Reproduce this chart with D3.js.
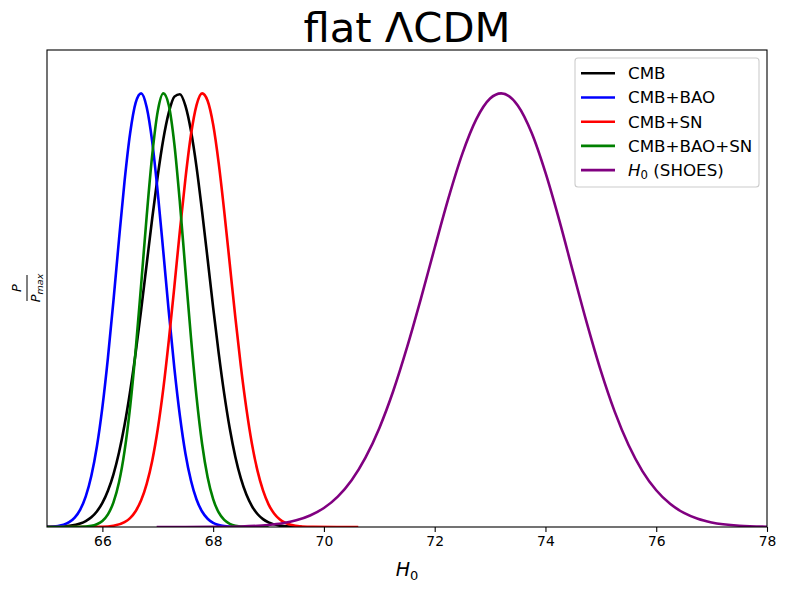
<!DOCTYPE html>
<html>
<head>
<meta charset="utf-8">
<script src="https://cdn.jsdelivr.net/npm/d3@7"></script>
<style>
  body { margin: 0; background: #fff; }
  text { font-family: "DejaVu Sans", sans-serif; }
</style>
</head>
<body>
<div id="chart"></div>
<script>
// values (H0 grid and P/Pmax)
const cmbH = [65.0, 65.2, 65.4, 65.6, 65.7, 65.8, 65.9, 66.0, 66.1, 66.2, 66.3, 66.4, 66.5, 66.6, 66.7, 66.8, 66.9, 67.0, 67.1, 67.2, 67.3, 67.4, 67.5, 67.6, 67.7, 67.8, 67.9, 68.0, 68.1, 68.2, 68.3, 68.4, 68.5, 68.6, 68.7, 68.8, 68.9, 69.0, 69.2, 69.4, 69.6];
const cmbP = [0.0002, 0.0007, 0.0026, 0.0081, 0.0137, 0.0225, 0.0359, 0.0556, 0.0836, 0.1216, 0.1717, 0.235, 0.312, 0.401, 0.501, 0.6065, 0.712, 0.810, 0.894, 0.956, 0.9925, 0.998, 0.971, 0.913, 0.830, 0.728, 0.618, 0.506, 0.401, 0.307, 0.227, 0.162, 0.112, 0.0747, 0.0482, 0.030, 0.0181, 0.0105, 0.0032, 0.0009, 0.0002];

const baoH = [65.0, 65.2, 65.3, 65.4, 65.5, 65.6, 65.7, 65.8, 65.9, 66.0, 66.1, 66.2, 66.3, 66.4, 66.5, 66.6, 66.7, 66.8, 66.9, 67.0, 67.1, 67.2, 67.3, 67.4, 67.5, 67.6, 67.7, 67.8, 67.9, 68.0, 68.2, 68.4];
const baoP = [0.0004, 0.0025, 0.0054, 0.0111, 0.0217, 0.0402, 0.0706, 0.1174, 0.185, 0.276, 0.390, 0.522, 0.663, 0.797, 0.907, 0.978, 1.0, 0.968, 0.888, 0.771, 0.635, 0.495, 0.366, 0.256, 0.169, 0.1066, 0.0634, 0.0357, 0.0191, 0.0096, 0.0021, 0.0004];

const snH = [65.0, 66.0, 66.2, 66.4, 66.5, 66.6, 66.7, 66.8, 66.9, 67.0, 67.1, 67.2, 67.3, 67.4, 67.5, 67.6, 67.7, 67.8, 67.9, 68.0, 68.1, 68.2, 68.3, 68.4, 68.5, 68.6, 68.7, 68.8, 68.9, 69.0, 69.1, 69.2, 69.3, 69.4, 69.6, 69.8, 70.62];
const snP = [0, 0.0006, 0.0028, 0.0111, 0.0206, 0.0364, 0.0615, 0.0994, 0.153, 0.226, 0.319, 0.431, 0.555, 0.684, 0.804, 0.905, 0.973, 1.0, 0.983, 0.928, 0.839, 0.728, 0.6065, 0.484, 0.371, 0.273, 0.192, 0.130, 0.0843, 0.0523, 0.0312, 0.0179, 0.0098, 0.0052, 0.0013, 0.0003, 0];

const baoSnH = [65.0, 65.6, 65.8, 65.9, 66.0, 66.1, 66.2, 66.3, 66.4, 66.5, 66.6, 66.7, 66.8, 66.9, 67.0, 67.1, 67.2, 67.3, 67.4, 67.5, 67.6, 67.7, 67.8, 67.9, 68.0, 68.1, 68.2, 68.3, 68.4, 68.6, 69.0];
const baoSnP = [0, 0.0004, 0.0026, 0.0063, 0.0140, 0.0292, 0.0568, 0.103, 0.175, 0.276, 0.406, 0.559, 0.717, 0.858, 0.959, 1.0, 0.972, 0.8825, 0.747, 0.590, 0.436, 0.300, 0.192, 0.115, 0.0644, 0.0336, 0.0163, 0.0074, 0.0031, 0.0005, 0];

const shoesH = [66.98, 67.5, 68.0, 68.5, 69.0, 69.25, 69.5, 69.75, 70.0, 70.25, 70.5, 70.75, 71.0, 71.25, 71.5, 71.75, 72.0, 72.25, 72.5, 72.75, 73.0, 73.2, 73.5, 73.75, 74.0, 74.25, 74.5, 74.75, 75.0, 75.25, 75.5, 75.75, 76.0, 76.25, 76.5, 76.75, 77.0, 77.5, 78.0];
const shoesP = [0, 0.00005, 0.0003, 0.0012, 0.0046, 0.0086, 0.0153, 0.0265, 0.0439, 0.0702, 0.108, 0.160, 0.228, 0.313, 0.414, 0.526, 0.644, 0.759, 0.861, 0.940, 0.988, 1.0, 0.972, 0.909, 0.817, 0.707, 0.587, 0.469, 0.360, 0.266, 0.189, 0.129, 0.0847, 0.0534, 0.0324, 0.0189, 0.0106, 0.0030, 0.0007];

const labels = ["CMB", "CMB+BAO", "CMB+SN", "CMB+BAO+SN", "H0 (SHOES)"];
const colors = ["black", "blue", "red", "green", "purple"];
const xTicks = [66, 68, 70, 72, 74, 76, 78];

const series = [
  d3.zip(cmbH, cmbP),
  d3.zip(baoH, baoP),
  d3.zip(snH, snP),
  d3.zip(baoSnH, baoSnP),
  d3.zip(shoesH, shoesP)
];

const width = 787, height = 591;
const plotLeft = 47, plotRight = 767, plotTop = 50, plotBottom = 527;

const svg = d3.select('#chart').append('svg')
    .attr('width', width)
    .attr('height', height);

svg.append('rect').attr('width', width).attr('height', height).attr('fill', '#fff');

const x = d3.scaleLinear().domain([65, 78]).range([plotLeft, plotRight]);
const y = d3.scaleLinear().domain([0, 1.1]).range([plotBottom, plotTop]);

svg.append('clipPath').attr('id', 'clip')
  .append('rect')
    .attr('x', plotLeft).attr('y', plotTop - 5)
    .attr('width', plotRight - plotLeft).attr('height', plotBottom - plotTop + 5);

const line = d3.line()
    .x(d => x(d[0]))
    .y(d => y(d[1]))
    .curve(d3.curveMonotoneX);

svg.append('g').attr('clip-path', 'url(#clip)')
  .selectAll('path').data(series).enter()
  .append('path')
    .attr('d', line)
    .attr('fill', 'none')
    .attr('stroke', (d, i) => colors[i])
    .attr('stroke-width', 2.6)
    .attr('stroke-linejoin', 'round');

// x axis
const xAxis = svg.append('g')
    .attr('transform', `translate(0,${plotBottom})`)
    .call(d3.axisBottom(x).tickValues(xTicks).tickFormat(d3.format('d')).tickSize(4.9).tickPadding(4.5));
xAxis.select('.domain').remove();
xAxis.selectAll('line').attr('stroke', '#000').attr('stroke-width', 1.1);
xAxis.selectAll('text')
    .attr('fill', '#000')
    .style('font-family', '"DejaVu Sans", sans-serif')
    .style('font-size', '13.9px');

// frame
svg.append('rect')
    .attr('x', plotLeft).attr('y', plotTop)
    .attr('width', plotRight - plotLeft).attr('height', plotBottom - plotTop)
    .attr('fill', 'none')
    .attr('stroke', '#000')
    .attr('stroke-width', 1.1);

// title
svg.append('text')
    .attr('x', (plotLeft + plotRight) / 2)
    .attr('y', 42)
    .attr('text-anchor', 'middle')
    .style('font-size', '41.7px')
    .text('flat ΛCDM');

// x label
const xl = svg.append('text')
    .attr('x', (plotLeft + plotRight) / 2)
    .attr('y', 576)
    .attr('text-anchor', 'middle')
    .style('font-size', '19px');
xl.append('tspan').style('font-style', 'italic').text('H');
xl.append('tspan').attr('dy', 4).style('font-size', '13px').text('0');

// y label (fraction P / Pmax)
const yl = svg.append('g').attr('transform', 'translate(27,288) rotate(-90)');
yl.append('text')
    .attr('x', 0).attr('y', -6)
    .attr('text-anchor', 'middle')
    .style('font-size', '13px')
    .style('font-style', 'italic')
    .text('P');
yl.append('line')
    .attr('x1', -13).attr('x2', 13)
    .attr('y1', 0).attr('y2', 0)
    .attr('stroke', '#000').attr('stroke-width', 1);
const den = yl.append('text')
    .attr('x', 0).attr('y', 13)
    .attr('text-anchor', 'middle')
    .style('font-size', '13px')
    .style('font-style', 'italic');
den.append('tspan').text('P');
den.append('tspan').attr('dy', 3).style('font-size', '9.5px').text('max');

// legend
const lg = svg.append('g');
lg.append('rect')
    .attr('x', 575).attr('y', 58)
    .attr('width', 184).attr('height', 129)
    .attr('rx', 3)
    .attr('fill', '#fff').attr('fill-opacity', 0.8)
    .attr('stroke', '#cccccc').attr('stroke-width', 1.1);

const rows = lg.selectAll('g.row').data(labels).enter()
  .append('g')
    .attr('class', 'row')
    .attr('transform', (d, i) => `translate(0,${73.3 + i * 24.2})`);

rows.append('line')
    .attr('x1', 581).attr('x2', 615)
    .attr('stroke', (d, i) => colors[i])
    .attr('stroke-width', 2.6);

rows.each(function(d, i) {
  const t = d3.select(this).append('text')
      .attr('x', 628).attr('y', 5.8)
      .style('font-size', '16.7px');
  if (d.startsWith('H0')) {
    t.append('tspan').style('font-style', 'italic').text('H');
    t.append('tspan').attr('dy', 3).style('font-size', '11.7px').text('0');
    t.append('tspan').attr('dy', -3).text(' (SHOES)');
  } else {
    t.text(d);
  }
});
</script>
</body>
</html>
